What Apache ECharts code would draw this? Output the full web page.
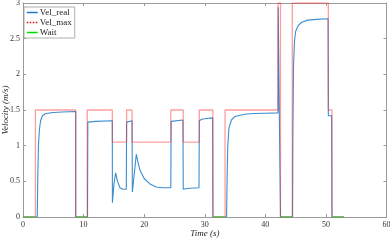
<!DOCTYPE html>
<html><head><meta charset="utf-8">
<script src="https://cdn.jsdelivr.net/npm/echarts@6/dist/echarts.min.js"></script>
<style>html,body{margin:0;padding:0;background:#fff}#c{width:390px;height:240px}</style>
</head><body><div id="c"></div>
<script>
// Vel_max (step, value holds until next time)
const maxT = [0, 2.05, 8.7, 10.6, 14.75, 17.1, 18.0, 24.4, 26.45, 29.1, 31.35, 33.35, 42.1, 42.5, 44.45, 50.4, 51.0, 53.0];
const maxV = [0, 1.5, 0, 1.5, 1.05, 1.5, 1.05, 1.5, 1.05, 1.5, 0, 1.5, 3.0, 0, 3.0, 1.5, 0, 0];
// Vel_real samples
const realT = [0, 2.35, 2.45, 2.55, 2.7, 2.9, 3.2, 3.8, 5.0, 6.5, 8.7, 8.7, 10.65, 10.7, 12.0, 14.74, 14.76, 15.0, 15.3, 15.6, 16.0, 16.5, 17.05, 17.1, 18.0, 18.05, 18.3, 18.7, 19.0, 19.3, 20.0, 21.0, 22.0, 23.0, 24.4, 24.45, 26.4, 26.45, 27.0, 29.05, 29.1, 29.5, 30.5, 31.3, 31.35, 33.6, 33.7, 33.8, 34.0, 34.4, 35.0, 36.6, 38.0, 40.0, 42.1, 42.12, 42.45, 42.5, 44.5, 44.55, 44.65, 44.8, 45.0, 45.4, 46.0, 47.0, 48.5, 50.35, 50.4, 50.95, 51.0, 53.0];
const realV = [0, 0, 0.6, 1.0, 1.22, 1.35, 1.42, 1.45, 1.465, 1.472, 1.478, 0, 0, 1.33, 1.34, 1.35, 0.2, 0.45, 0.62, 0.5, 0.41, 0.39, 0.39, 1.33, 1.35, 0.35, 0.55, 0.88, 0.76, 0.66, 0.54, 0.46, 0.42, 0.41, 0.41, 1.34, 1.36, 0.39, 0.40, 0.41, 1.35, 1.37, 1.385, 1.39, 0, 0, 0.6, 1.0, 1.25, 1.36, 1.41, 1.44, 1.45, 1.455, 1.46, 2.94, 2.94, 0, 0, 1.2, 2.1, 2.45, 2.6, 2.68, 2.73, 2.76, 2.77, 2.78, 1.42, 1.42, 0, 0];
// Wait intervals (value 0)
const waitStart = [0, 8.7, 31.35, 42.5, 51.0];
const waitEnd = [2.05, 10.6, 33.4, 44.45, 53.0];
const xTicks = [0, 10, 20, 30, 40, 50, 60];
const yTicks = [0, 0.5, 1, 1.5, 2, 2.5, 3];

const waitData = [];
waitStart.forEach((s, i) => { waitData.push([s, 0], [waitEnd[i], 0], [waitEnd[i], '-']); });

const serif = 'Liberation Serif';
const axisCommon = {
  type: 'value', splitLine: {show: false},
  axisLine: {show: true, onZero: false, lineStyle: {color: '#9a9a9a', width: 1}},
  axisTick: {show: true, inside: true, length: 3, lineStyle: {color: '#9a9a9a'}},
};
const chart = echarts.init(document.getElementById('c'), null, {renderer: 'canvas'});
chart.setOption({
  animation: false,
  grid: {left: 23, right: 3.5, top: 3, bottom: 23, containLabel: false, outerBoundsMode: 'none'},
  legend: {
    orient: 'vertical', left: 24, top: 7, itemGap: 1, itemWidth: 11, itemHeight: 6,
    padding: [1, 3, 1, 2], borderColor: '#9a9a9a', borderWidth: 0.8, backgroundColor: '#fff',
    textStyle: {fontFamily: serif, fontSize: 9, color: '#222', padding: [0, 0, 0, -3]},
    data: [
      {name: 'Vel_real', itemStyle: {opacity: 0}, lineStyle: {color: '#1f77c9', width: 1.5}},
      {name: 'Vel_max', itemStyle: {opacity: 0}, lineStyle: {color: '#ff0000', width: 1.5, type: 'dotted'}},
      {name: 'Wait', itemStyle: {opacity: 0}, lineStyle: {color: '#00e000', width: 1.5}}
    ]
  },
  xAxis: [
    Object.assign({}, axisCommon, {min: 0, max: 60, interval: 10, position: 'bottom',
      axisLabel: {fontFamily: serif, fontSize: 8, color: '#333', margin: 4},
      name: 'Time (s)', nameLocation: 'middle', nameGap: 12, nameMoveOverlap: false,
      nameTextStyle: {fontFamily: serif, fontStyle: 'italic', fontSize: 9, color: '#222'}}),
    Object.assign({}, axisCommon, {min: 0, max: 60, interval: 10, position: 'top', axisLabel: {show: false}})
  ],
  yAxis: [
    Object.assign({}, axisCommon, {min: 0, max: 3, interval: 0.5, position: 'left',
      axisLabel: {fontFamily: serif, fontSize: 8, color: '#333', margin: 3},
      name: 'Velocity (m/s)', nameLocation: 'middle', nameGap: 13, nameRotate: 90, nameMoveOverlap: false,
      nameTextStyle: {fontFamily: serif, fontStyle: 'italic', fontSize: 9, color: '#222'}}),
    Object.assign({}, axisCommon, {min: 0, max: 3, interval: 0.5, position: 'right', axisLabel: {show: false}})
  ],
  series: [
    {name: 'Vel_real', type: 'line', symbol: 'none', data: realT.map((t, i) => [t, realV[i]]),
      lineStyle: {color: '#3b8ed0', width: 1.1}, itemStyle: {color: '#3b8ed0'}, z: 2},
    {name: 'Vel_max', type: 'line', symbol: 'none', step: 'end', data: maxT.map((t, i) => [t, maxV[i]]),
      lineStyle: {color: 'rgba(255,40,40,0.45)', width: 1.3}, itemStyle: {color: '#ff0000'}, z: 3},
    {name: 'Wait', type: 'line', symbol: 'none', data: waitData, connectNulls: false,
      lineStyle: {color: 'rgba(40,230,40,0.6)', width: 1.3}, itemStyle: {color: '#00e000'}, z: 4}
  ]
});
</script></body></html>
